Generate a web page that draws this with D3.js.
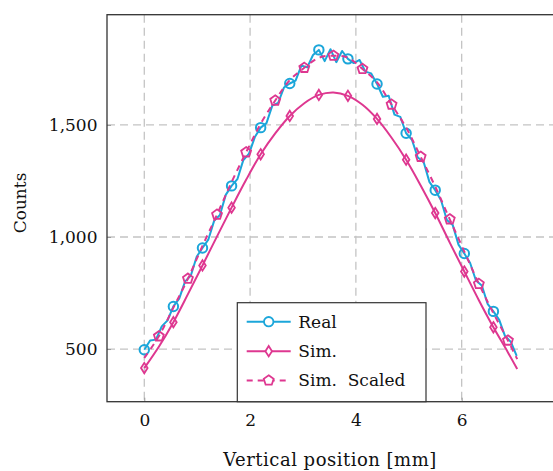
<!DOCTYPE html>
<html>
<head>
<meta charset="utf-8">
<script src="https://cdn.jsdelivr.net/npm/d3@7"></script>
<style>
  body { margin: 0; background: #fff; }
  text { font-family: 'DejaVu Serif', serif; fill: #111; }
</style>
</head>
<body>
<script>
// Real measurement, 0.11 mm steps
const realX = d3.range(65).map(i => +(i * 0.11).toFixed(2))
const realY = [497, 538, 542, 601, 628, 690, 725, 801, 828, 912,
  951, 988, 1072, 1098, 1188, 1228, 1258, 1342, 1372, 1446,
  1488, 1508, 1586, 1598, 1667, 1685, 1698, 1765, 1757, 1812,
  1835, 1785, 1838, 1780, 1830, 1795, 1776, 1790, 1738, 1730,
  1683, 1626, 1630, 1546, 1536, 1463, 1434, 1355, 1336, 1246,
  1209, 1164, 1076, 1054, 966, 926, 884, 806, 784, 702,
  668, 630, 558, 532, 470]

// simulation, 0.275 mm steps (+ end point)
const simX = [0, 0.275, 0.55, 0.825, 1.1, 1.375, 1.65, 1.925, 2.2, 2.475,
  2.75, 3.025, 3.3, 3.575, 3.85, 4.125, 4.4, 4.675, 4.95, 5.225,
  5.5, 5.775, 6.05, 6.325, 6.6, 6.875, 7.05]
const simY = [415, 510, 620, 745, 873, 1003, 1131, 1255, 1369, 1462,
  1540, 1597, 1634, 1645, 1630, 1590, 1527, 1443, 1345, 1230,
  1107, 975, 846, 718, 597, 485, 411]
const simScaledY = [460, 557, 685, 814, 960, 1100, 1245, 1378, 1505, 1609,
  1700, 1755, 1800, 1809, 1800, 1750, 1690, 1591, 1488, 1358,
  1225, 1079, 935, 791, 660, 538, 455]

const xTicks = [0, 2, 4, 6]
const yTicks = [500, 1000, 1500]

const cyan = '#1ba6da'
const pink = '#de3790'
const fontSize = '17px'

const W = 553, H = 471
const plot = { left: 107, right: 554.5, top: 14.7, bottom: 401.7 }

const svg = d3.select('body').append('svg')
  .attr('width', W)
  .attr('height', H)

const xScale = d3.scaleLinear().domain([-0.705, 7.755]).range([plot.left, plot.right])
const yScale = d3.scaleLinear().domain([265, 1992]).range([plot.bottom, plot.top])

// grid
svg.append('g').selectAll('line')
  .data(xTicks)
  .enter().append('line')
  .attr('x1', d => xScale(d)).attr('x2', d => xScale(d))
  .attr('y1', plot.top).attr('y2', plot.bottom)
  .style('stroke', '#c4c4c4').style('stroke-width', 1.3)
  .style('stroke-dasharray', '8,5')

svg.append('g').selectAll('line')
  .data(yTicks)
  .enter().append('line')
  .attr('x1', plot.left).attr('x2', plot.right)
  .attr('y1', d => yScale(d)).attr('y2', d => yScale(d))
  .style('stroke', '#c4c4c4').style('stroke-width', 1.3)
  .style('stroke-dasharray', '8,5')

// axes
const xAxis = svg.append('g')
  .attr('transform', `translate(0, ${plot.bottom})`)
  .call(d3.axisBottom(xScale).tickValues(xTicks).tickSize(-4).tickPadding(12))
const yAxis = svg.append('g')
  .attr('transform', `translate(${plot.left}, 0)`)
  .call(d3.axisLeft(yScale).tickValues(yTicks).tickSize(-4).tickPadding(9.5)
    .tickFormat(d3.format(',')))

;[xAxis, yAxis].forEach(a => {
  a.select('.domain').remove()
  a.selectAll('.tick line').style('stroke', '#999').style('stroke-width', 1)
  a.selectAll('.tick text')
    .style('font-family', "'DejaVu Serif', serif")
    .style('font-size', fontSize)
    .style('fill', '#111')
})

svg.append('rect')
  .attr('x', plot.left).attr('y', plot.top)
  .attr('width', plot.right - plot.left).attr('height', plot.bottom - plot.top)
  .style('fill', 'none').style('stroke', '#333').style('stroke-width', 1.3)

svg.append('text')
  .attr('x', 330).attr('y', 466)
  .attr('text-anchor', 'middle')
  .style('font-size', '18px')
  .style('letter-spacing', '0.5px')
  .text('Vertical position [mm]')

svg.append('text')
  .attr('transform', 'translate(26, 203) rotate(-90)')
  .attr('text-anchor', 'middle')
  .style('font-size', fontSize)
  .text('Counts')

// markers
const circleSym = d3.symbol().type(d3.symbolCircle).size(70)
const diamondPath = 'M0,-5.2L3.3,0L0,5.2L-3.3,0Z'
const pentaPath = d3.range(5).map(k => {
  const a = -Math.PI / 2 + k * 2 * Math.PI / 5
  return (k ? 'L' : 'M') + (5.2 * Math.cos(a)).toFixed(2) + ',' + (5.2 * Math.sin(a)).toFixed(2)
}).join('') + 'Z'

const line = d3.line()
  .x(d => xScale(d[0]))
  .y(d => yScale(d[1]))

const realData = realX.map((x, i) => [x, realY[i]])
const simData = simX.map((x, i) => [x, simY[i]])
const scaledData = simX.map((x, i) => [x, simScaledY[i]])

// Real
svg.append('path')
  .datum(realData)
  .attr('d', line)
  .style('fill', 'none').style('stroke', cyan).style('stroke-width', 2)
  .style('stroke-linejoin', 'round')
svg.selectAll('.real-mark')
  .data(realData.filter((d, i) => i % 5 === 0))
  .enter().append('path')
  .attr('class', 'real-mark')
  .attr('d', circleSym)
  .attr('transform', d => `translate(${xScale(d[0])}, ${yScale(d[1])})`)
  .style('fill', 'none').style('stroke', cyan).style('stroke-width', 2)

// Sim
svg.append('path')
  .datum(simData)
  .attr('d', line.curve(d3.curveCatmullRom))
  .style('fill', 'none').style('stroke', pink).style('stroke-width', 2)
svg.selectAll('.sim-mark')
  .data(simData.filter((d, i) => i % 2 === 0 && i < 26))
  .enter().append('path')
  .attr('class', 'sim-mark')
  .attr('d', diamondPath)
  .attr('transform', d => `translate(${xScale(d[0])}, ${yScale(d[1])})`)
  .style('fill', 'none').style('stroke', pink).style('stroke-width', 1.8)

// Sim. Scaled
svg.append('path')
  .datum(scaledData)
  .attr('d', line.curve(d3.curveCatmullRom))
  .style('fill', 'none').style('stroke', pink).style('stroke-width', 2)
  .style('stroke-dasharray', '6,5')
svg.selectAll('.scaled-mark')
  .data(scaledData.filter((d, i) => i % 2 === 1))
  .enter().append('path')
  .attr('class', 'scaled-mark')
  .attr('d', pentaPath)
  .attr('transform', d => `translate(${xScale(d[0])}, ${yScale(d[1])})`)
  .style('fill', 'none').style('stroke', pink).style('stroke-width', 1.8)

// legend
const legend = svg.append('g')
legend.append('rect')
  .attr('x', 237.3).attr('y', 302.7)
  .attr('width', 426 - 237.3).attr('height', plot.bottom - 302.7)
  .style('fill', '#fff').style('stroke', '#333').style('stroke-width', 1.2)

const entries = [
  { name: 'Real', mark: circleSym(), dash: null },
  { name: 'Sim.', mark: diamondPath, dash: null },
  { name: 'Sim.  Scaled', mark: pentaPath, dash: '6,5' }
]
const rowY = [321.7, 351.2, 380.5]
entries.forEach((e, i) => {
  const g = legend.append('g').attr('transform', `translate(0, ${rowY[i]})`)
  const c = i === 0 ? cyan : pink
  g.append('line')
    .attr('x1', 246.7).attr('x2', 290.7)
    .style('stroke', c).style('stroke-width', 2)
    .style('stroke-dasharray', e.dash)
  g.append('path')
    .attr('d', e.mark)
    .attr('transform', 'translate(268.7, 0)')
    .style('fill', '#fff').style('stroke', c).style('stroke-width', 1.8)
  g.append('text')
    .attr('x', 298.3).attr('y', 0).attr('dy', '0.35em')
    .style('font-size', fontSize)
    .style('white-space', 'pre')
    .text(e.name)
})
</script>
</body>
</html>
